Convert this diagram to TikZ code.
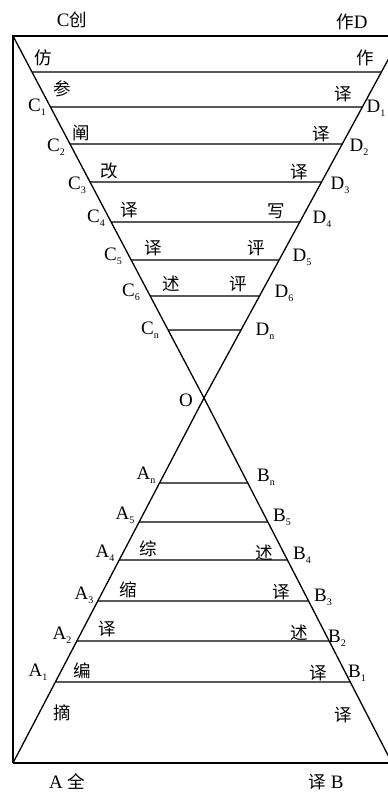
\documentclass[tikz,border=0pt]{standalone}
\usepackage{fontspec}
\setmainfont{Liberation Serif}
\newfontfamily\cjk{Noto Sans CJK SC}
\newcommand\mysubidx[1]{\raisebox{-0.45ex}{\fontsize{10}{10}\selectfont #1}}
\begin{document}
\begin{tikzpicture}[x=1pt,y=-1pt,line width=1.3pt,
  lab/.style={inner sep=0pt,font=\fontsize{19}{22}\selectfont},
  zh/.style={inner sep=0pt,font=\fontsize{17.5}{20}\selectfont\cjk},
  rung/.style={line width=1.3pt}]
\useasboundingbox (0,0) rectangle (388,793);
\clip (0,0) rectangle (388,793);
% frame and the two crossing lines
\coordinate (TL) at (13,36);
\coordinate (TR) at (401,36);
\coordinate (O) at (204,398);
\coordinate (BL) at (13,763);
\coordinate (BR) at (392,763);
\draw (BL) -- (TL) -- (TR);
\draw (BL) -- (BR);
\draw (TL) -- (O) -- (BR);
\draw (TR) -- (O) -- (BL);
% upper rungs
\foreach \n/\y in {0/72,1/107,2/144,3/182,4/222,5/260,6/296,n/330}{
  \coordinate (C\n) at (intersection of TL--O and 0,\y--100,\y);
  \coordinate (D\n) at (intersection of TR--O and 0,\y--100,\y);
  \draw[rung] (C\n) -- (D\n);
}
% lower rungs
\foreach \n/\y in {n/483,5/522,4/560,3/601,2/641,1/682}{
  \coordinate (A\n) at (intersection of BL--O and 0,\y--100,\y);
  \coordinate (B\n) at (intersection of BR--O and 0,\y--100,\y);
  \draw[rung] (A\n) -- (B\n);
}
% corner labels
\node[lab] (tC) at (72,20) {C{\cjk\fontsize{17.5}{20}\selectfont 创}};
\node[lab] (tD) at (352,22) {{\cjk\fontsize{17.5}{20}\selectfont 作}D};
\node[lab] (bA) at (67,781) {A {\cjk\fontsize{17.5}{20}\selectfont 全}};
\node[lab] (bB) at (326,782) {{\cjk\fontsize{17.5}{20}\selectfont 译} B};
\node[lab] (lO) at (186,400) {O};
% point labels
\foreach \t/\s/\x/\y in {C/1/37/107,C/2/56/147,C/3/77/185,C/4/96/218,C/5/113/256,C/6/131/292,C/n/150/330,
  D/1/376/108,D/2/359/147,D/3/340/185,D/4/322/219,D/5/302/257,D/6/284/293,D/n/265/331,
  A/n/146/475,A/5/125/515,A/4/105/553,A/3/84/595,A/2/62/635,A/1/38/672,
  B/n/266/477,B/5/282/517,B/4/302/555,B/3/323/597,B/2/337/638,B/1/357/673}{
  \node[lab] (l\t\s) at (\x,\y) {\t\mysubidx{\s}};
}
% character labels
\foreach \i/\c/\x/\y in {1/仿/43/58,2/作/365/58,3/参/62/89,4/译/343/94,5/阐/81/133,6/译/321/134,
  7/改/109/171,8/译/299/172,9/译/129/210,10/写/276/211,11/译/153/248,12/评/256/248,
  13/述/171/284,14/评/238/284,15/综/148/549,16/述/264/553,17/缩/128/590,18/译/281/592,
  19/译/107/629,20/述/299/633,21/编/82/671,22/译/318/673,23/摘/62/713,24/译/343/715}{
  \node[zh] (z\i) at (\x,\y) {\c};
}
\end{tikzpicture}
\end{document}
